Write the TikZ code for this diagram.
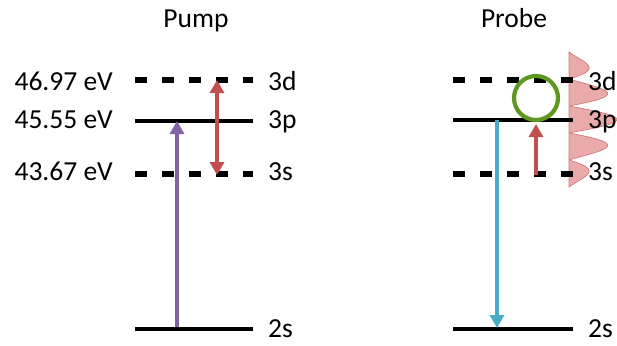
\documentclass[tikz,border=0pt]{standalone}
\usepackage{fontspec}
\setmainfont{Carlito}
\usetikzlibrary{arrows.meta}

\definecolor{pumpviolet}{RGB}{128,100,162}
\definecolor{levelred}{RGB}{192,80,77}
\definecolor{decayblue}{RGB}{75,172,198}
\definecolor{ringgreen}{RGB}{94,152,30}
\definecolor{pulsefill}{RGB}{230,155,155}

\tikzset{
  level/.style={line width=4.5pt},
  virtual/.style={line width=6.5pt, dash pattern=on 12pt off 15pt},
  lbl/.style={inner sep=0pt, font=\fontsize{27.5}{32}\selectfont},
  tip/.style={Triangle[width=14pt,length=13pt]},
  trans/.style={line width=3.2pt, -{Triangle[width=14pt,length=13pt]}},
  ttrans/.style={line width=3.2pt, {Triangle[width=14pt,length=13pt]}-{Triangle[width=14pt,length=13pt]}},
}

\begin{document}
\begin{tikzpicture}[x=1pt,y=-1pt]
\useasboundingbox (0,0) rectangle (617,345);

% probe pulse: rectified carrier under a Gaussian envelope
\fill[pulsefill, draw=levelred!75, line width=0.7pt, fill opacity=0.85]
  (569,52) -- plot[variable=\t, domain=52:187, samples=240]
  ({569+48*exp(-0.5*((\t-119.5)/40)*((\t-119.5)/40))*abs(sin(180*((\t-52)/27)))}, {\t}) -- (569,187) -- cycle;

% titles
\node[lbl, anchor=base] (tpump) at (196,28) {Pump};
\node[lbl, anchor=base] (tprobe) at (514,28) {Probe};

% pump side levels
\coordinate (a3dL) at (135,80);  \coordinate (a3dR) at (253,80);
\coordinate (a3pL) at (135,121); \coordinate (a3pR) at (253,121);
\coordinate (a3sL) at (135,174); \coordinate (a3sR) at (253,174);
\coordinate (a2sL) at (135,329); \coordinate (a2sR) at (253,329);
\draw[virtual] (a3dL) -- (a3dR);
\draw[level]   (a3pL) -- (a3pR);
\draw[virtual] (a3sL) -- (a3sR);
\draw[level]   (a2sL) -- (a2sR);

% probe side levels
\coordinate (b3dL) at (453,80);  \coordinate (b3dR) at (573,80);
\coordinate (b3pL) at (453,120); \coordinate (b3pR) at (573,120);
\coordinate (b3sL) at (453,174); \coordinate (b3sR) at (573,174);
\coordinate (b2sL) at (453,329); \coordinate (b2sR) at (573,329);
\draw[virtual] (b3dL) -- (b3dR);
\draw[level]   (b3pL) -- (b3pR);
\draw[virtual] (b3sL) -- (b3sR);
\draw[level]   (b2sL) -- (b2sR);

% energies
\node[lbl, anchor=base east] (e3d) at (113,90)  {46.97 eV};
\node[lbl, anchor=base east] (e3p) at (113,128) {45.55 eV};
\node[lbl, anchor=base east] (e3s) at (113,180) {43.67 eV};

% state labels
\node[lbl, anchor=base west] (pa3d) at (268,90)  {3d};
\node[lbl, anchor=base west] (pa3p) at (268,128) {3p};
\node[lbl, anchor=base west] (pa3s) at (268,180) {3s};
\node[lbl, anchor=base west] (pa2s) at (268,337) {2s};
\node[lbl, anchor=base west] (pb3d) at (588,90)  {3d};
\node[lbl, anchor=base west] (pb3p) at (588,128) {3p};
\node[lbl, anchor=base west] (pb3s) at (588,180) {3s};
\node[lbl, anchor=base west] (pb2s) at (588,337) {2s};

% pump transitions
\coordinate (pu0) at (177,327); \coordinate (pu1) at (177,121);
\draw[trans, pumpviolet] (pu0) -- (pu1);
\coordinate (rd0) at (217,80); \coordinate (rd1) at (217,175);
\draw[ttrans, levelred] (rd0) -- (rd1);

% probe transitions
\coordinate (bl0) at (497,120); \coordinate (bl1) at (497,328);
\draw[trans, decayblue] (bl0) -- (bl1);
\coordinate (pr0) at (536,175); \coordinate (pr1) at (536,124);
\draw[trans, levelred] (pr0) -- (pr1);

% marker on the probed coupling
\node[draw=ringgreen, line width=4.2pt, circle, minimum size=44pt, inner sep=0pt] (ring) at (536,98) {};
\end{tikzpicture}
\end{document}
